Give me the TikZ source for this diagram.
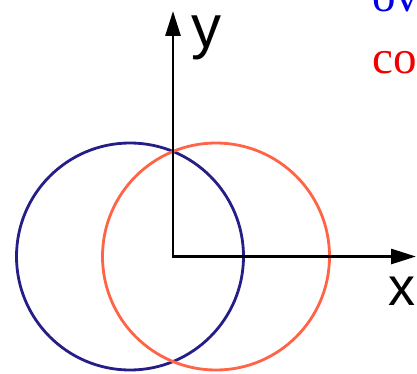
\documentclass[tikz,border=0pt]{standalone}
\usepackage{fontspec}
\setmainfont{Liberation Serif}
\setsansfont{Liberation Sans}
\newfontfamily\timesface{Liberation Serif}
\usetikzlibrary{arrows.meta}
\definecolor{navyc}{RGB}{38,30,135}
\definecolor{orangec}{RGB}{255,100,70}
\definecolor{txtblue}{RGB}{0,0,230}
\definecolor{txtred}{RGB}{240,0,0}
\begin{document}
\begin{tikzpicture}[x=1pt,y=1pt,
  axis/.style={line width=2.8pt,-{Triangle[length=25pt,width=15pt]}},
  ring/.style={circle,draw,line width=2.8pt,inner sep=0pt,minimum size=227pt},
  axlabel/.style={inner sep=0pt},
  toptext/.style={anchor=base west,inner sep=0pt,font=\timesface\fontsize{47}{47}\selectfont}]
\useasboundingbox (0,0) rectangle (417,373);
\clip (0,0) rectangle (417,373);
\node[ring,draw=navyc] (blue) at (130,116.5) {};
\node[ring,draw=orangec] (orange) at (216,116.5) {};
\coordinate (O) at (173,116.5);
\coordinate (ytip) at (173,362);
\coordinate (xtip) at (416,116.5);
\draw[axis] (O) -- (ytip);
\draw[axis] ([xshift=-1.4pt]O) -- (xtip);
\node[axlabel,font=\sffamily\fontsize{60}{60}\selectfont] (ylab) at (206.5,335.5) {y};
\node[axlabel,font=\sffamily\fontsize{54}{54}\selectfont] (xlab) at (401.5,82) {x};
\node[toptext,text=txtblue] (t1) at (372,361) {ov};
\node[toptext,text=txtred] (t2) at (372,300) {co};
\end{tikzpicture}
\end{document}
